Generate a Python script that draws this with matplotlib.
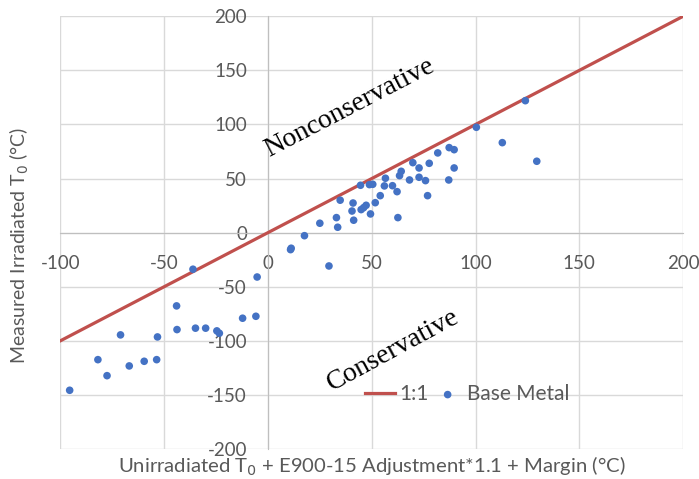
import matplotlib
matplotlib.use("Agg")
import matplotlib.pyplot as plt
import numpy as np

# 1:1 reference line
line_x = [-100, 200]
line_y = [-100, 200]

# base metal points
bm_x = [-95.5, -81.9, -77.5, -71.0, -66.8, -59.6, -53.6, -53.2, -44.0, -43.8,
        -36.1, -34.9, -30.0, -24.6, -23.4, -12.2, -5.8, -5.2, 10.9, 11.2,
        17.6, 25.0, 29.4, 34.8, 33.0, 33.6, 41.0, 40.5, 41.3, 44.6,
        44.9, 46.1, 47.3, 49.4, 48.9, 50.5, 51.7, 54.1, 56.6, 56.1,
        60.0, 62.2, 62.6, 63.4, 64.2, 68.2, 69.8, 72.8, 72.8, 75.9,
        77.7, 76.9, 81.8, 87.1, 87.3, 89.7, 89.7, 100.4, 112.9, 124.0,
        129.5]
bm_y = [-145.7, -117.4, -132.2, -94.5, -123.2, -118.9, -117.4, -96.4, -67.7, -89.6,
        -33.8, -88.3, -88.3, -90.8, -93.0, -79.1, -77.3, -41.0, -15.7, -14.4,
        -2.8, 8.7, -30.8, 30.0, 13.9, 5.0, 27.4, 20.0, 11.5, 43.8,
        21.3, 23.1, 25.3, 17.3, 44.4, 44.7, 27.7, 34.2, 50.3, 43.2,
        43.4, 37.9, 13.9, 52.7, 56.7, 48.7, 64.7, 59.8, 51.2, 48.1,
        64.1, 34.2, 73.7, 48.7, 78.6, 76.7, 59.8, 97.4, 83.2, 122.0,
        66.0]

ticks = [-100, -50, 0, 50, 100, 150, 200]
yticks = [-200, -150, -100, -50, 0, 50, 100, 150, 200]

plt.rcParams['font.family'] = ['Lato', 'DejaVu Sans']
plt.rcParams['axes.unicode_minus'] = False
grey = '#595959'

fig = plt.figure(figsize=(6.99, 4.79), dpi=100)
ax = fig.add_axes([0.0863, 0.0626, 0.891, 0.9034])

ax.plot(line_x, line_y, color='#C0504D', lw=2.3, label='1:1', zorder=3)
ax.scatter(bm_x, bm_y, s=30, color='#4472C4', label='Base Metal', zorder=4,
           edgecolors='none')

ax.set_xlim(-100, 200)
ax.set_ylim(-200, 200)
ax.set_xticks(ticks)
ax.set_yticks(yticks)
ax.grid(True, color='#D9D9D9', lw=1)
for gl in ax.get_xgridlines() + ax.get_ygridlines():
    gl.set_clip_on(False)
ax.set_axisbelow(True)

for s in ['top', 'right']:
    ax.spines[s].set_visible(False)
ax.spines['left'].set_position(('data', 0))
ax.spines['bottom'].set_position(('data', 0))
ax.spines['left'].set_color('#BFBFBF')
ax.spines['bottom'].set_color('#BFBFBF')
ax.tick_params(axis='x', length=0, pad=16, labelsize=13.5, labelcolor=grey)
ax.tick_params(axis='y', length=0, pad=15, labelsize=13.5, labelcolor=grey)

fig.text(0.027, 0.488, 'Measured Irradiated T$_0$ (°C)', rotation=90,
         ha='center', va='center', fontsize=14, color=grey)
fig.text(0.532, 0.013, 'Unirradiated T$_0$ + E900-15 Adjustment*1.1 + Margin (°C)',
         ha='center', va='baseline', fontsize=14.6, color=grey)

ax.text(39.5, 115, 'Nonconservative', rotation=27.5, ha='center', va='center',
        fontsize=20, family='Liberation Serif', rotation_mode='anchor')
ax.text(60.5, -108.5, 'Conservative', rotation=28.5, ha='center', va='center',
        fontsize=20, family='Liberation Serif', rotation_mode='anchor')

ax.legend(loc='center', bbox_to_anchor=(0.653, 0.127), ncol=2, frameon=False,
          fontsize=15, labelcolor=grey, handlelength=1.45, handletextpad=0.2,
          columnspacing=0.2, borderpad=0)

fig.savefig('out.png', dpi=100)
